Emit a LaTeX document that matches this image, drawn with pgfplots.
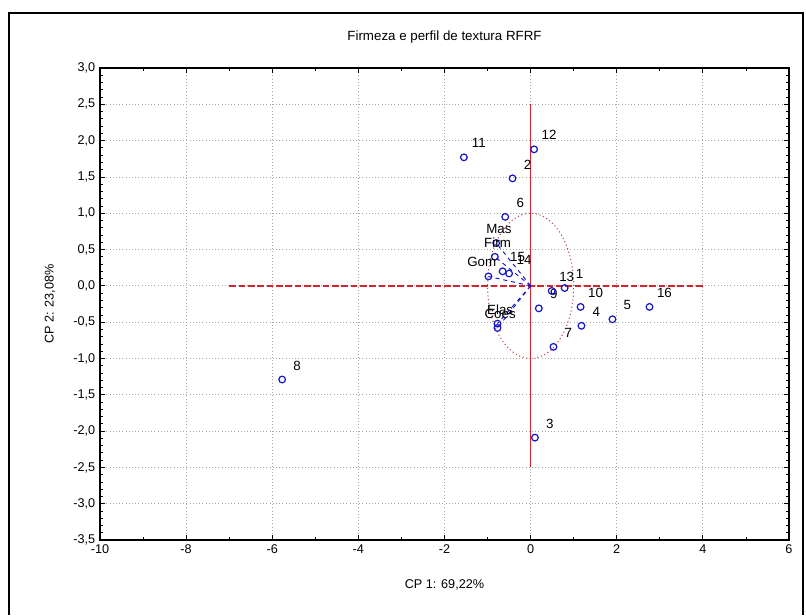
\documentclass[border=0pt]{standalone}
\usepackage{pgfplots}
\pgfplotsset{compat=1.18}
\usepackage{fontspec}
\setmainfont{Liberation Sans}
\definecolor{ptblue}{RGB}{20,20,200}
\definecolor{lnred}{RGB}{215,35,45}
\definecolor{elred}{RGB}{185,70,70}
\pgfplotstableread{
x y lab
0.79 -0.03 1
-0.42 1.48 2
0.10 -2.09 3
1.18 -0.55 4
1.90 -0.46 5
-0.59 0.95 6
0.53 -0.84 7
-5.77 -1.29 8
0.19 -0.31 9
1.16 -0.29 10
-1.55 1.77 11
0.08 1.88 12
0.49 -0.07 13
-0.50 0.17 14
-0.65 0.20 15
2.76 -0.29 16
}\cases
\pgfplotstableread{
x y lab
-0.80 0.59 Mas
-0.83 0.40 Firm
-0.77 -0.52 Elas
-0.77 -0.58 Coes
}\vars
\begin{document}
\begin{tikzpicture}
\useasboundingbox (0,0) rectangle (604.5pt,461.25pt);
\draw[line width=2.2pt] (6.75pt,0) -- (6.75pt,451.5pt) -- (602.25pt,451.5pt) -- (602.25pt,0);
\begin{axis}[
  at={(75pt,56.25pt)}, anchor=south west,
  scale only axis, width=516.75pt, height=354pt,
  xmin=-10, xmax=6, ymin=-3.5, ymax=3,
  xtick={-10,-8,...,6}, ytick={-3.5,-3,...,3},
  minor x tick num=1, minor y tick num=4,
  tick align=inside, tick pos=both,
  major tick length=4pt, minor tick length=2pt,
  every tick/.style={black, line width=0.6pt},
  axis line style={black, line width=0.9pt},
  grid=major, major grid style={dotted, gray!70, line width=0.6pt},
  font=\fontsize{9.5}{11}\selectfont,
  ticklabel style={font=\fontsize{9.5}{11}\selectfont},
  /pgf/number format/assume math mode=true,
  yticklabel style={/pgf/number format/.cd, fixed, fixed zerofill, precision=1, use comma},
  xticklabel style={/pgf/number format/.cd, fixed, precision=0},
  title={Firmeza e perfil de textura RFRF},
  title style={at={(axis description cs:0.5,1.0487)}, anchor=center, font=\fontsize{10}{12}\selectfont},
  xlabel={CP 1: 69,22\%},
  xlabel style={at={(axis description cs:0.5,-0.0953)}, anchor=center},
  ylabel={CP 2: 23,08\%},
  ylabel style={at={(axis description cs:-0.0726,0.5)}, anchor=center, rotate=0},
  clip=false,
]
% reference lines
\addplot[lnred, line width=1.1pt, dash pattern=on 5pt off 2pt] coordinates {(-7,0) (4,0)};
\addplot[lnred, line width=1.1pt] coordinates {(0,-2.5) (0,2.5)};
\draw[elred, dotted, line width=0.8pt] (axis cs:0,0) ellipse [x radius=1, y radius=1];
% variable vectors
\addplot[ptblue, dashed, line width=0.7pt] coordinates {(0,0) (-0.80,0.59)};
\addplot[ptblue, dashed, line width=0.7pt] coordinates {(0,0) (-0.83,0.40)};
\addplot[ptblue, dashed, line width=0.7pt] coordinates {(0,0) (-0.98,0.13)};
\addplot[ptblue, dashed, line width=0.7pt] coordinates {(0,0) (-0.77,-0.52)};
\addplot[ptblue, dashed, line width=0.7pt] coordinates {(0,0) (-0.77,-0.58)};
% cases
\addplot[only marks, mark=o, mark size=2.5pt, ptblue, mark options={line width=0.9pt},
  nodes near coords, point meta=explicit symbolic,
  every node near coord/.style={black, anchor=center, xshift=11.25pt, yshift=10.5pt, font=\fontsize{10}{12}\selectfont}]
  table[x=x, y=y, meta=lab] {\cases};
% variables
\addplot[only marks, mark=o, mark size=2.5pt, ptblue, mark options={line width=0.9pt},
  nodes near coords, point meta=explicit symbolic,
  every node near coord/.style={black, anchor=center, xshift=2pt, yshift=10.5pt, font=\fontsize{10}{12}\selectfont}]
  table[x=x, y=y, meta=lab] {\vars};
\addplot[only marks, mark=o, mark size=2.5pt, ptblue, mark options={line width=0.9pt},
  nodes near coords, point meta=explicit symbolic,
  every node near coord/.style={black, anchor=center, xshift=-5pt, yshift=11pt, font=\fontsize{10}{12}\selectfont}]
  coordinates {(-0.98,0.13) [Gom]};
\end{axis}
\end{tikzpicture}
\end{document}
